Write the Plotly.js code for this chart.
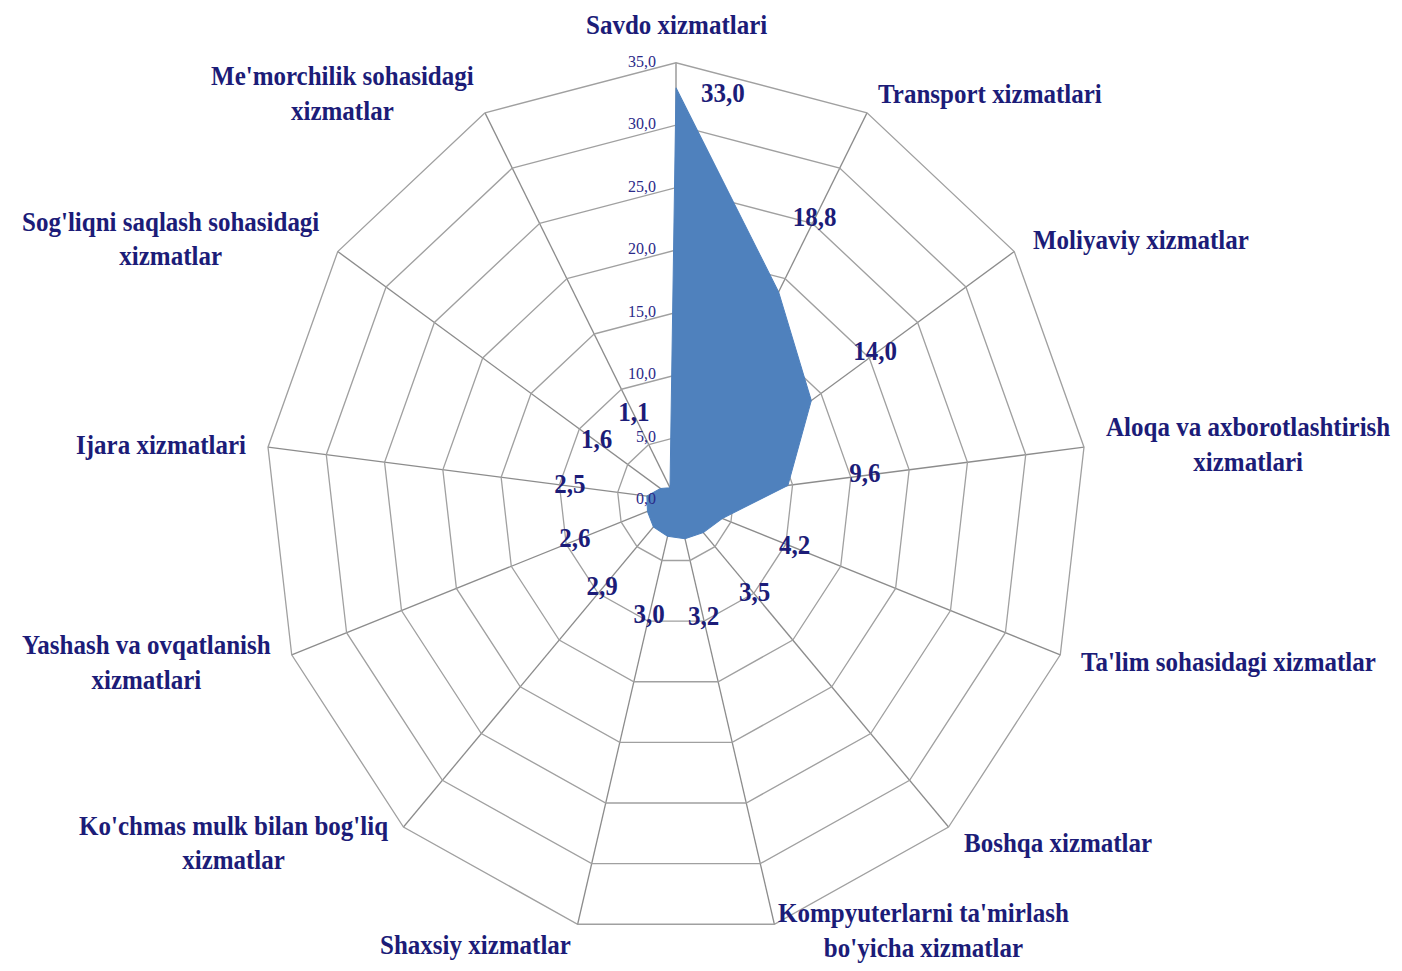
<!DOCTYPE html>
<html>
<head>
<meta charset="utf-8">
<script src="https://cdn.plot.ly/plotly-3.0.1.min.js"></script>
<style>
html,body{margin:0;padding:0;background:#fff;overflow:hidden;}
#wrap{width:1402px;height:971px;overflow:hidden;position:relative;}
#chart{width:1402px;height:913px;transform-origin:0 0;position:absolute;left:0;top:0;}
</style>
</head>
<body>
<div id="wrap"><div id="chart"></div></div>
<script>
var categories = [
  "Savdo xizmatlari",
  "Transport xizmatlari",
  "Moliyaviy xizmatlar",
  "Aloqa va axborotlashtirish<br>xizmatlari",
  "Ta'lim sohasidagi xizmatlar",
  "Boshqa xizmatlar",
  "Kompyuterlarni ta'mirlash<br>bo'yicha xizmatlar",
  "Shaxsiy xizmatlar",
  "Ko'chmas mulk bilan bog'liq<br>xizmatlar",
  "Yashash va ovqatlanish<br>xizmatlari",
  "Ijara xizmatlari",
  "Sog'liqni saqlash sohasidagi<br>xizmatlar",
  "Me'morchilik sohasidagi<br>xizmatlar"
];
var values = [33.0, 18.8, 14.0, 9.6, 4.2, 3.5, 3.2, 3.0, 2.9, 2.6, 2.5, 1.6, 1.1];
var radialTicks = [0, 5, 10, 15, 20, 25, 30, 35];

function fmt(v){ return v.toFixed(1).replace('.', ','); }

// geometry (unscaled plot coordinates); the page is stretched vertically to match the source aspect
var W = 1402, H = 913, stretch = 971 / 913;
var cx = 676, cy = 470, R = 411;
var navy = '#1c1c78';
var labelFont = {family: 'Liberation Serif', size: 25, color: navy, weight: 'bold'};

var labelOffset = 6.6;
var labelR = values.map(function(v, i){ return i === 0 ? v - 0.6 : v + labelOffset; });
var labelPos = values.map(function(v, i){ return i === 0 ? 'middle right' : 'middle center'; });
var labelText = values.map(function(v, i){ return i === 0 ? '    ' + fmt(v) : fmt(v); });

var traces = [
  {
    type: 'scatterpolar',
    r: values.concat([values[0]]),
    theta: categories.concat([categories[0]]),
    mode: 'lines',
    fill: 'toself',
    fillcolor: '#4f81bd',
    line: {color: '#4f81bd', width: 1},
    hoverinfo: 'skip',
    showlegend: false
  },
  {
    type: 'scatterpolar',
    r: radialTicks.map(function(t){ return t === 0 ? 1e-6 : t; }),
    theta: radialTicks.map(function(){ return categories[0]; }),
    mode: 'text',
    text: radialTicks.map(function(t){ return fmt(t) + '     '; }),
    textposition: 'middle left',
    textfont: {family: 'Liberation Serif', size: 16, color: '#2a2a88'},
    cliponaxis: false,
    hoverinfo: 'skip',
    showlegend: false
  },
  {
    type: 'scatterpolar',
    r: labelR,
    theta: categories,
    mode: 'text',
    text: labelText,
    textposition: labelPos,
    textfont: labelFont,
    cliponaxis: false,
    hoverinfo: 'skip',
    showlegend: false
  }
];

// category labels placed just outside each outer vertex
var n = categories.length;
var annotations = categories.map(function(c, i){
  var a = i * 2 * Math.PI / n;
  var sx = Math.sin(a), sy = Math.cos(a);
  var gap = (sy < -0.9 && c.indexOf('<br>') >= 0) ? 6 : 20;
  var px = cx + (R + gap) * sx;
  var py = cy - (R + gap) * sy;
  var xa = Math.abs(sx) < 0.05 ? 'center' : (sx > 0 ? 'left' : 'right');
  var ya = i === 0 ? 'bottom' : 'middle';
  return {
    text: c, xref: 'paper', yref: 'paper',
    x: px / W, y: 1 - py / H,
    xanchor: xa, yanchor: ya, align: 'center',
    showarrow: false, font: labelFont
  };
});

var layout = {
  width: W,
  height: H,
  margin: {l: 0, r: 0, t: 0, b: 0},
  paper_bgcolor: '#ffffff',
  plot_bgcolor: '#ffffff',
  showlegend: false,
  annotations: annotations,
  polar: {
    domain: {x: [(cx - R) / W, (cx + R) / W], y: [1 - (cy + R) / H, 1 - (cy - R) / H]},
    bgcolor: '#ffffff',
    gridshape: 'linear',
    radialaxis: {
      range: [0, 35],
      tickvals: radialTicks,
      showticklabels: false,
      angle: 90,
      showline: false,
      ticks: '',
      gridcolor: '#a0a0a0',
      gridwidth: 1.3,
      layer: 'below traces'
    },
    angularaxis: {
      rotation: 90,
      direction: 'clockwise',
      showline: true,
      linecolor: '#a0a0a0',
      linewidth: 1.3,
      gridcolor: '#8c8c8c',
      gridwidth: 1.3,
      ticks: '',
      showticklabels: false,
      layer: 'above traces'
    }
  }
};

document.getElementById('chart').style.transform = 'scaleY(' + stretch + ')';
Plotly.newPlot('chart', traces, layout, {displayModeBar: false, staticPlot: true});
</script>
</body>
</html>
